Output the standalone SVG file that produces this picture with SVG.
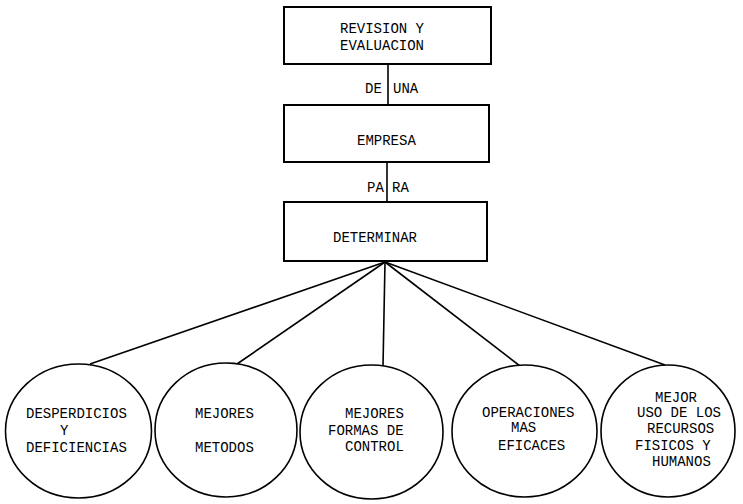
<svg xmlns="http://www.w3.org/2000/svg" width="743" height="504" viewBox="0 0 743 504">
<style>
.box{fill:#fff;stroke:#000;stroke-width:2}
.circ{fill:#fff;stroke:#000;stroke-width:1.6}
.ln{stroke:#000;stroke-width:1.6;fill:none}
text{font-family:"Liberation Mono","DejaVu Sans Mono",monospace;font-size:14px;fill:#000}
</style>
<rect width="743" height="504" fill="#fff"/>
<g id="connectors">
<line class="ln" x1="388" y1="64" x2="388" y2="105"/>
<line class="ln" x1="387" y1="162" x2="387" y2="202"/>
<line class="ln" x1="385" y1="262" x2="90" y2="364"/>
<line class="ln" x1="385" y1="262" x2="237" y2="364"/>
<line class="ln" x1="385" y1="262" x2="383" y2="366"/>
<line class="ln" x1="385" y1="262" x2="520" y2="366"/>
<line class="ln" x1="385" y1="262" x2="665" y2="365"/>
<text x="365" y="93">DE</text>
<text x="393" y="93">UNA</text>
<text x="367" y="192">PA</text>
<text x="392" y="192">RA</text>
</g>
<g id="revision">
<rect class="box" x="284" y="7" width="207" height="57"/>
<text x="340" y="33">REVISION Y</text>
<text x="340" y="50">EVALUACION</text>
</g>
<g id="empresa">
<rect class="box" x="284" y="105" width="205" height="57"/>
<text x="357" y="145">EMPRESA</text>
</g>
<g id="determinar">
<rect class="box" x="284" y="202" width="203" height="59"/>
<text x="333" y="242">DETERMINAR</text>
</g>
<g id="desperdicios">
<ellipse class="circ" cx="78.5" cy="431" rx="73" ry="67"/>
<text x="26" y="418">DESPERDICIOS</text>
<text x="60" y="435">Y</text>
<text x="26" y="452">DEFICIENCIAS</text>
</g>
<g id="metodos">
<ellipse class="circ" cx="226" cy="430" rx="71" ry="67"/>
<text x="195" y="418">MEJORES</text>
<text x="195" y="452">METODOS</text>
</g>
<g id="control">
<ellipse class="circ" cx="371.5" cy="432" rx="71.5" ry="67"/>
<text x="345" y="418">MEJORES</text>
<text x="328" y="435">FORMAS DE</text>
<text x="345" y="451">CONTROL</text>
</g>
<g id="operaciones">
<ellipse class="circ" cx="524.5" cy="431" rx="72.5" ry="66"/>
<text x="482" y="417">OPERACIONES</text>
<text x="511" y="432">MAS</text>
<text x="498" y="450">EFICACES</text>
</g>
<g id="recursos">
<ellipse class="circ" cx="668" cy="431" rx="67" ry="66"/>
<text x="655" y="402">MEJOR</text>
<text x="637" y="417">USO DE LOS</text>
<text x="647" y="433">RECURSOS</text>
<text x="635" y="450">FISICOS Y</text>
<text x="652" y="466">HUMANOS</text>
</g>
</svg>
